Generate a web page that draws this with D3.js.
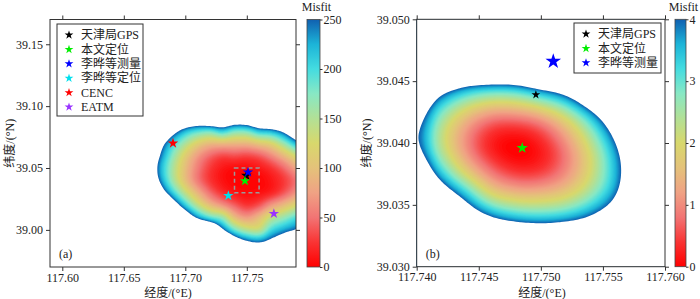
<!DOCTYPE html>
<html>
<head>
<meta charset="utf-8">
<script src="https://cdnjs.cloudflare.com/ajax/libs/d3/7.8.5/d3.min.js"></script>
<style>
body { margin: 0; background: #fff; }
text { font-family: "Liberation Serif", "Noto Sans CJK SC", serif; font-size: 12px; fill: #222; }
</style>
</head>
<body>
<svg id="chart" width="700" height="299"></svg>
<script>
// ---------- data ----------

// panel (a): misfit grid (rows north -> south)
var lonGridA = [117.66, 117.67, 117.68, 117.69, 117.70, 117.71, 117.72, 117.73, 117.74, 117.75, 117.76, 117.77, 117.78, 117.79, 117.80];
var latGridA = [39.10, 39.09, 39.08, 39.07, 39.06, 39.05, 39.04, 39.03, 39.02, 39.01, 39.00, 38.99, 38.98];
var misfitA = [
  [400, 400, 400, 400, 400, 400, 400, 400, 400, 400, 400, 400, 400, 400, 400],
  [400, 400, 400, 382, 347, 331, 344, 344, 319, 323, 363, 387, 400, 400, 400],
  [400, 400, 348, 279, 225, 197, 189, 211, 184, 185, 219, 230, 266, 330, 400],
  [400, 371, 278, 207, 155, 116,  96,  95,  92,  92, 107, 123, 165, 223, 279],
  [400, 333, 245, 171, 114,  73,  47,  34,  36,  33,  41,  62,  93, 132, 188],
  [400, 318, 226, 154,  98,  56,  28,  12,   6,   6,  12,  25,  47,  80, 124],
  [400, 332, 239, 160, 100,  55,  26,   9,   1,   0,   2,  11,  27,  52,  90],
  [400, 397, 294, 208, 141,  89,  49,  24,  11,   5,   8,  18,  39,  69, 110],
  [400, 400, 400, 298, 211, 144,  97,  69,  43,  26,  38,  70,  95, 125, 170],
  [400, 400, 400, 400, 313, 240, 193, 164,  98,  73,  95, 140, 165, 195, 230],
  [400, 400, 400, 400, 400, 397, 357, 263, 186, 148, 142, 200, 230, 255, 290],
  [400, 400, 400, 400, 400, 400, 400, 396, 311, 263, 248, 275, 310, 350, 390],
  [400, 400, 400, 400, 400, 400, 400, 400, 400, 370, 350, 380, 400, 400, 400]
];

// panel (b): misfit grid (rows north -> south)
var lonGridB = [117.740, 117.742, 117.744, 117.746, 117.748, 117.750, 117.752, 117.754, 117.756, 117.758, 117.760];
var latGridB = [39.050, 39.048, 39.046, 39.044, 39.042, 39.040, 39.038, 39.036, 39.034, 39.032, 39.030];
var misfitB = [
  [8, 8, 8, 8, 8, 8, 8, 8, 8, 8, 8],
  [8, 8, 8, 8, 8, 8, 8, 8, 8, 8, 8],
  [8, 7, 6.25, 6.15, 6.2, 7.05, 7.65, 8, 8, 8, 8],
  [5.74, 4.17, 3.24, 2.85, 2.93, 3.49, 4.24, 5.65, 7.5, 8, 8],
  [4.42, 2.66, 1.53, 0.93, 0.87, 1.2, 2.03, 3.38, 5.25, 7.6, 8],
  [4.11, 2.3, 1.03, 0.26, 0.02, 0.29, 1.05, 2.28, 4.0, 6.2, 8],
  [5.06, 3.1, 1.64, 0.71, 0.29, 0.37, 0.95, 2.0, 3.57, 5.6, 8],
  [7.06, 4.92, 3.26, 1.93, 1.45, 1.43, 1.75, 2.57, 3.89, 5.97, 8],
  [8, 7.6, 5.37, 4.07, 3.5, 3.35, 3.55, 4.14, 5.26, 6.85, 8],
  [8, 8, 8, 7.1, 6.46, 6.2, 6.4, 6.7, 8, 8, 8],
  [8, 8, 8, 8, 8, 8, 8, 8, 8, 8, 8]
];

// epicentre markers
var markerNames = ["天津局GPS", "本文定位", "李晔等测量", "李晔等定位", "CENC", "EATM"];
var markerLon = [117.7496, 117.7485, 117.7510, 117.735, 117.690, 117.772];
var markerLat = [39.0439, 39.0396, 39.0466, 39.0276, 39.070, 39.0131];
var markerColor = ["#000000", "#00ee00", "#0000ff", "#00e0ee", "#ff0000", "#9933ff"];

// axis ticks
var xTicksA = [117.60, 117.65, 117.70, 117.75];
var yTicksA = [39.00, 39.05, 39.10, 39.15];
var cbTicksA = [0, 50, 100, 150, 200, 250];
var xTicksB = [117.740, 117.745, 117.750, 117.755, 117.760];
var yTicksB = [39.030, 39.035, 39.040, 39.045, 39.050];
var cbTicksB = [0, 1, 2, 3, 4];

// colour map (fractions of the colour bar range)
var cmapStops = [0, 0.1, 0.2, 0.3, 0.4, 0.5, 0.6, 0.7, 0.8, 0.9, 1];
var cmapColors = ["#ff0000", "#f93434", "#f27474", "#f0a284", "#e4c27a", "#d8d86c",
                  "#b2e096", "#88e8c4", "#44dce0", "#1cb4d8", "#1060b0"];

// ---------- drawing ----------
var svg = d3.select("#chart");
var defs = svg.append("defs");

// Catmull-Rom upsampling of a coarse grid, edges padded with their own values
function cr(p0, p1, p2, p3, t) {
    return 0.5 * (2 * p1 + (-p0 + p2) * t + (2 * p0 - 5 * p1 + 4 * p2 - p3) * t * t +
        (-p0 + 3 * p1 - 3 * p2 + p3) * t * t * t);
}
function upsample(rows, f, pad) {
    var ny = rows.length, nx = rows[0].length;
    var get = function (i, j) {
        return rows[Math.max(0, Math.min(ny - 1, j))][Math.max(0, Math.min(nx - 1, i))];
    };
    var NX = (nx - 1 + 2 * pad) * f + 1, NY = (ny - 1 + 2 * pad) * f + 1;
    var out = new Float64Array(NX * NY);
    for (var J = 0; J < NY; J++) {
        var v = J / f - pad, j = Math.floor(v), tv = v - j;
        for (var I = 0; I < NX; I++) {
            var u = I / f - pad, i = Math.floor(u), tu = u - i;
            var c = [];
            for (var k = -1; k <= 2; k++) {
                c.push(cr(get(i - 1, j + k), get(i, j + k), get(i + 1, j + k), get(i + 2, j + k), tu));
            }
            out[J * NX + I] = cr(c[0], c[1], c[2], c[3], tv);
        }
    }
    return { values: out, nx: NX, ny: NY };
}

function drawPanel(p) {
    var x = d3.scaleLinear().domain(p.xDomain).range([p.left, p.right]);
    var y = d3.scaleLinear().domain(p.yDomain).range([p.bottom, p.top]);
    var color = d3.scaleLinear()
        .domain(cmapStops.map(function (s) { return s * p.vmax; }))
        .range(cmapColors)
        .clamp(true);

    var g = svg.append("g");

    defs.append("clipPath").attr("id", "clip" + p.id)
        .append("rect")
        .attr("x", p.left).attr("y", p.top)
        .attr("width", p.right - p.left).attr("height", p.bottom - p.top);

    // misfit field as filled contour bands
    var f = p.factor, pad = 10;
    var up = upsample(p.grid, f, pad);
    var step = p.vmax / 100;
    var levels = [-1e6].concat(d3.range(step, p.vmax, step)).concat([p.vmax]);
    var contours = d3.contours().size([up.nx, up.ny]).thresholds(levels)(up.values);
    var dLon = p.lons[1] - p.lons[0], dLat = p.lats[0] - p.lats[1];
    var proj = d3.geoTransform({
        point: function (px, py) {
            this.stream.point(x(p.lons[0] + ((px - 0.5) / f - pad) * dLon),
                              y(p.lats[0] - ((py - 0.5) / f - pad) * dLat));
        }
    });
    var path = d3.geoPath(proj);

    g.append("g")
        .attr("clip-path", "url(#clip" + p.id + ")")
        .selectAll("path")
        .data(contours)
        .enter()
        .append("path")
        .attr("d", path)
        .attr("fill", function (d, i) {
            if (d.value >= p.vmax) return "#ffffff";
            if (i === 0) return color(step / 2);
            return color(d.value + step / 2);
        });

    // dashed box (extent of panel b)
    if (p.box) {
        g.append("rect")
            .attr("x", x(p.box[0])).attr("y", y(p.box[3]))
            .attr("width", x(p.box[1]) - x(p.box[0]))
            .attr("height", y(p.box[2]) - y(p.box[3]))
            .attr("fill", "none")
            .attr("stroke", "#9a9a9a")
            .attr("stroke-width", 1.5)
            .attr("stroke-dasharray", "4,3");
    }

    // markers
    var star = d3.symbol().type(d3.symbolStar);
    g.append("g")
        .attr("clip-path", "url(#clip" + p.id + ")")
        .selectAll("path")
        .data(p.markers)
        .enter()
        .append("path")
        .attr("transform", function (i) {
            return "translate(" + x(markerLon[i]) + "," + y(markerLat[i]) + ")";
        })
        .attr("d", function (i) { return star.size(p.markerSize[i])(); })
        .attr("fill", function (i) { return markerColor[i]; });

    // axes
    var fmt = d3.format(p.fmt);
    g.append("g").attr("transform", "translate(0," + p.bottom + ")")
        .call(d3.axisBottom(x).tickValues(p.xTicks).tickFormat(fmt).tickSize(4).tickSizeOuter(0).tickPadding(2));
    g.append("g").attr("transform", "translate(0," + p.top + ")")
        .call(d3.axisTop(x).tickValues(p.xTicks).tickFormat("").tickSize(4).tickSizeOuter(0));
    g.append("g").attr("transform", "translate(" + p.left + ",0)")
        .call(d3.axisLeft(y).tickValues(p.yTicks).tickFormat(fmt).tickSize(4).tickSizeOuter(0).tickPadding(3));
    g.append("g").attr("transform", "translate(" + p.right + ",0)")
        .call(d3.axisRight(y).tickValues(p.yTicks).tickFormat("").tickSize(4).tickSizeOuter(0));
    g.selectAll(".domain").remove();
    g.selectAll(".tick line").attr("stroke", "#333");
    g.selectAll(".tick text").attr("font-family", null).attr("font-size", null);

    g.append("rect")
        .attr("x", p.left).attr("y", p.top)
        .attr("width", p.right - p.left).attr("height", p.bottom - p.top)
        .attr("fill", "none").attr("stroke", "#333").attr("stroke-width", 1);

    // axis titles
    g.append("text")
        .attr("x", p.xTitleX).attr("y", 297)
        .attr("text-anchor", "middle")
        .text("经度/(°E)");
    g.append("text")
        .attr("transform", "translate(" + p.yTitleX + "," + (p.top + p.bottom) / 2 + ") rotate(-90)")
        .attr("text-anchor", "middle")
        .attr("dy", "0.35em")
        .text("纬度/(°N)");

    g.append("text")
        .attr("x", p.left + 9).attr("y", 258)
        .text(p.label);

    // legend
    var lg = g.append("g");
    lg.append("rect")
        .attr("x", p.legend[0]).attr("y", p.legend[1])
        .attr("width", p.legend[2]).attr("height", p.legend[3])
        .attr("fill", "#fff").attr("stroke", "#333").attr("stroke-width", 1);
    var items = lg.selectAll("g.item")
        .data(p.markers)
        .enter()
        .append("g")
        .attr("transform", function (d, k) {
            return "translate(" + (p.legend[0] + 12) + "," + (p.legend[1] + 11 + k * 14.4) + ")";
        });
    items.append("path")
        .attr("d", star.size(24)())
        .attr("fill", function (i) { return markerColor[i]; });
    items.append("text")
        .attr("x", 12).attr("dy", "0.35em")
        .text(function (i) { return markerNames[i]; });

    // colour bar
    var cy = d3.scaleLinear().domain([0, p.vmax]).range([p.bottom, p.top]);
    var grad = defs.append("linearGradient").attr("id", "grad" + p.id)
        .attr("x1", 0).attr("y1", 1).attr("x2", 0).attr("y2", 0);
    grad.selectAll("stop")
        .data(cmapStops)
        .enter()
        .append("stop")
        .attr("offset", function (s) { return s; })
        .attr("stop-color", function (s, k) { return cmapColors[k]; });
    g.append("rect")
        .attr("x", p.cbLeft).attr("y", p.top)
        .attr("width", p.cbWidth).attr("height", p.bottom - p.top)
        .attr("fill", "url(#grad" + p.id + ")")
        .attr("stroke", "#444").attr("stroke-width", 0.8);
    var cb = g.append("g").attr("transform", "translate(" + (p.cbLeft + p.cbWidth) + ",0)")
        .call(d3.axisRight(cy).tickValues(p.cbTicks).tickFormat(d3.format("d"))
            .tickSize(2.5).tickSizeOuter(0).tickPadding(1));
    cb.select(".domain").remove();
    cb.selectAll(".tick line").attr("stroke", "#333");
    cb.selectAll(".tick text").attr("font-family", null).attr("font-size", null);
    g.append("text")
        .attr("x", p.cbLeft + p.cbWidth / 2 + 3).attr("y", 11)
        .attr("text-anchor", "middle")
        .text("Misfit");
}

drawPanel({
    id: "a", label: "(a)",
    left: 50, right: 296, top: 19.5, bottom: 267,
    xDomain: [117.59, 117.79], yDomain: [38.97, 39.17],
    grid: misfitA, lons: lonGridA, lats: latGridA, factor: 8, vmax: 250,
    xTicks: xTicksA, yTicks: yTicksA, fmt: ".2f",
    markers: [0, 1, 2, 3, 4, 5],
    markerSize: [34, 34, 34, 34, 34, 34],
    box: [xTicksB[0], xTicksB[4], yTicksB[0], yTicksB[4]],
    legend: [57, 24, 86, 92],
    xTitleX: 168, yTitleX: 10,
    cbLeft: 307, cbWidth: 13, cbTicks: cbTicksA
});

drawPanel({
    id: "b", label: "(b)",
    left: 416.7, right: 665, top: 19.3, bottom: 266.7,
    xDomain: [117.740, 117.760], yDomain: [39.030, 39.050],
    grid: misfitB, lons: lonGridB, lats: latGridB, factor: 10, vmax: 4,
    xTicks: xTicksB, yTicks: yTicksB, fmt: ".3f",
    markers: [0, 1, 2],
    markerSize: [24, 40, 76],
    box: null,
    legend: [574, 23, 87, 50],
    xTitleX: 542, yTitleX: 367,
    cbLeft: 675, cbWidth: 11, cbTicks: cbTicksB
});
</script>
</body>
</html>
